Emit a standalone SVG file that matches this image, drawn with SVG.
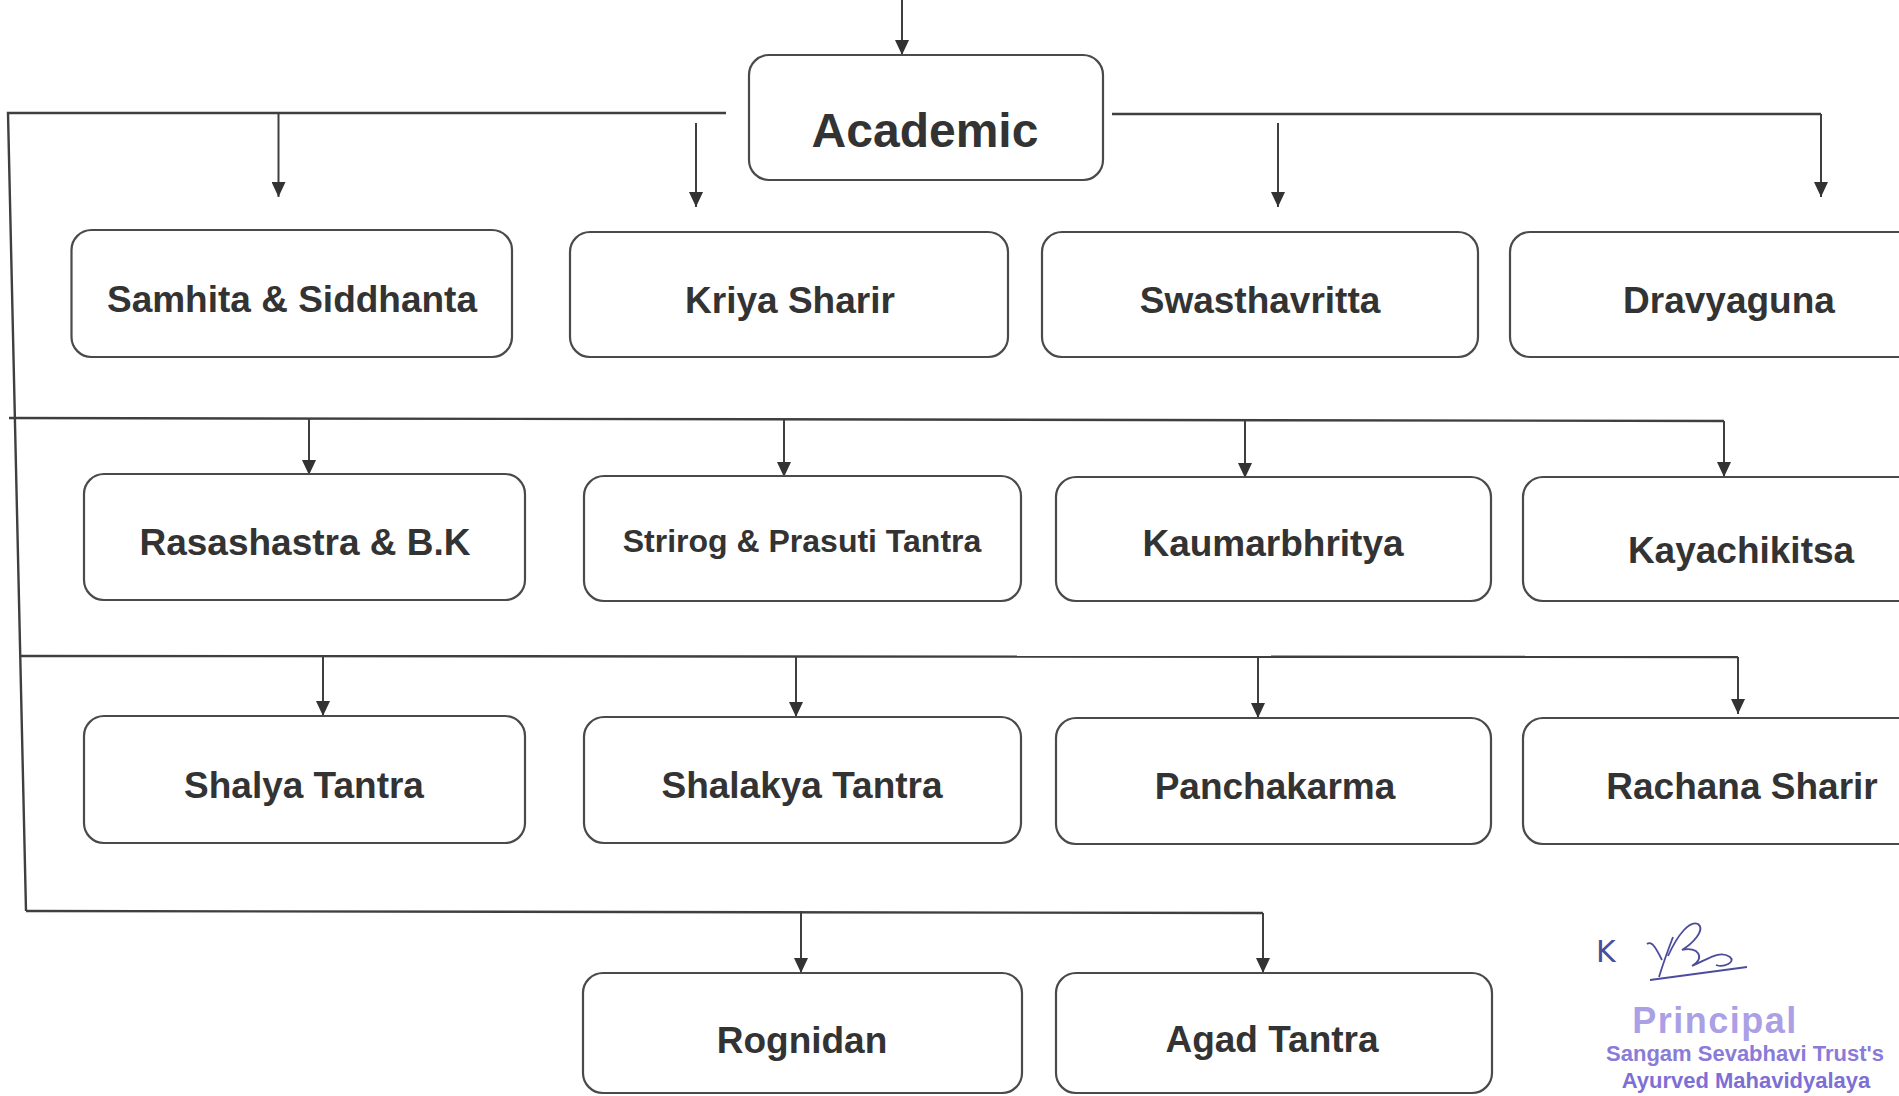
<svg xmlns="http://www.w3.org/2000/svg" width="1899" height="1096" viewBox="0 0 1899 1096">
<style>
.box{fill:#fff;stroke:#4a4a4a;stroke-width:2.2}
.lbl{font-family:"Liberation Sans",Arial,sans-serif;font-weight:bold;fill:#333;text-anchor:middle;font-size:37px}
.ln{fill:none;stroke:#3f3f3f;stroke-width:2.4}
.ar{fill:none;stroke:#3f3f3f;stroke-width:2;marker-end:url(#ah)}
.stamp{font-family:"Liberation Sans",Arial,sans-serif;font-weight:bold;text-anchor:middle}
</style>
<defs>
<marker id="ah" viewBox="0 0 15 14" refX="15" refY="7" markerWidth="15" markerHeight="14" markerUnits="userSpaceOnUse" orient="auto">
<path d="M0,0 L15,7 L0,14 z" fill="#333"/>
</marker>
</defs>
<rect width="1899" height="1096" fill="#fff"/>

<g id="connectors">
<line class="ar" x1="902" y1="0" x2="902" y2="55"/>
<polyline class="ln" points="726,113 8,113 26,911"/>
<line class="ln" x1="1112" y1="114" x2="1821" y2="114"/>
<line class="ln" x1="9" y1="418" x2="1724" y2="421"/>
<line class="ln" x1="20" y1="656" x2="1738" y2="657"/>
<line class="ln" x1="26" y1="911" x2="1263" y2="913"/>
<line class="ar" x1="278.5" y1="113" x2="278.5" y2="197"/>
<line class="ar" x1="696" y1="123" x2="696" y2="207"/>
<line class="ar" x1="1278" y1="123" x2="1278" y2="207"/>
<line class="ar" x1="1821" y1="114" x2="1821" y2="197"/>
<line class="ar" x1="309" y1="418" x2="309" y2="475"/>
<line class="ar" x1="784" y1="419" x2="784" y2="477"/>
<line class="ar" x1="1245" y1="419" x2="1245" y2="478"/>
<line class="ar" x1="1724" y1="421" x2="1724" y2="477"/>
<line class="ar" x1="323" y1="656" x2="323" y2="716"/>
<line class="ar" x1="796" y1="656" x2="796" y2="717"/>
<line class="ar" x1="1258" y1="656" x2="1258" y2="718"/>
<line class="ar" x1="1738" y1="657" x2="1738" y2="714"/>
<line class="ar" x1="801" y1="911" x2="801" y2="973"/>
<line class="ar" x1="1263" y1="913" x2="1263" y2="973"/>
</g>

<g id="academic"><rect class="box" x="749" y="55" width="354" height="125" rx="20"/><text class="lbl" x="925" y="147" style="font-size:48px">Academic</text></g>

<g id="samhita"><rect class="box" x="71.5" y="230" width="440.5" height="127" rx="20"/><text class="lbl" x="292" y="312">Samhita &amp; Siddhanta</text></g>
<g id="kriya"><rect class="box" x="570" y="232" width="438" height="125" rx="20"/><text class="lbl" x="790" y="313">Kriya Sharir</text></g>
<g id="swastha"><rect class="box" x="1042" y="232" width="436" height="125" rx="20"/><text class="lbl" x="1260" y="313">Swasthavritta</text></g>
<g id="dravya"><rect class="box" x="1510" y="232" width="430" height="125" rx="20"/><text class="lbl" x="1729" y="313">Dravyaguna</text></g>

<g id="rasa"><rect class="box" x="84" y="474" width="441" height="126" rx="20"/><text class="lbl" x="305" y="555">Rasashastra &amp; B.K</text></g>
<g id="strirog"><rect class="box" x="584" y="476" width="437" height="125" rx="20"/><text class="lbl" x="802" y="552" style="font-size:32px">Strirog &amp; Prasuti Tantra</text></g>
<g id="kaumar"><rect class="box" x="1056" y="477" width="435" height="124" rx="20"/><text class="lbl" x="1273" y="556">Kaumarbhritya</text></g>
<g id="kaya"><rect class="box" x="1523" y="477" width="420" height="124" rx="20"/><text class="lbl" x="1741" y="563">Kayachikitsa</text></g>

<g id="shalya"><rect class="box" x="84" y="716" width="441" height="127" rx="20"/><text class="lbl" x="304" y="798">Shalya Tantra</text></g>
<g id="shalakya"><rect class="box" x="584" y="717" width="437" height="126" rx="20"/><text class="lbl" x="802" y="798">Shalakya Tantra</text></g>
<g id="pancha"><rect class="box" x="1056" y="718" width="435" height="126" rx="20"/><text class="lbl" x="1275" y="799">Panchakarma</text></g>
<g id="rachana"><rect class="box" x="1523" y="718" width="420" height="126" rx="20"/><text class="lbl" x="1742" y="799">Rachana Sharir</text></g>

<g id="rognidan"><rect class="box" x="583" y="973" width="439" height="120" rx="20"/><text class="lbl" x="802" y="1053">Rognidan</text></g>
<g id="agad"><rect class="box" x="1056" y="973" width="436" height="120" rx="20"/><text class="lbl" x="1272" y="1052">Agad Tantra</text></g>

<g id="signature">
<text x="1596" y="962" style="font-family:'DejaVu Sans',sans-serif;font-size:30px;fill:#4c4c9c">K</text>
<path d="M1647,944 C1652,940 1657,950 1662,960 M1673,937 C1668,950 1663,964 1659,977 M1668,956 C1678,934 1690,920 1698,924 C1706,930 1692,944 1682,950 C1698,946 1706,958 1692,966 C1710,958 1720,950 1730,957 C1736,962 1724,968 1716,965 M1650,980 L1747,967" fill="none" stroke="#4c4c9c" stroke-width="1.8"/>
</g>
<g id="stamp">
<text class="stamp" x="1715" y="1033" style="font-size:36px;letter-spacing:1.5px;fill:#ab9fe6">Principal</text>
<text class="stamp" x="1745" y="1061" style="font-size:22px;fill:#8a7bd9">Sangam Sevabhavi Trust's</text>
<text class="stamp" x="1746" y="1088" style="font-size:22px;fill:#7e6fd4">Ayurved Mahavidyalaya</text>
</g>
</svg>
